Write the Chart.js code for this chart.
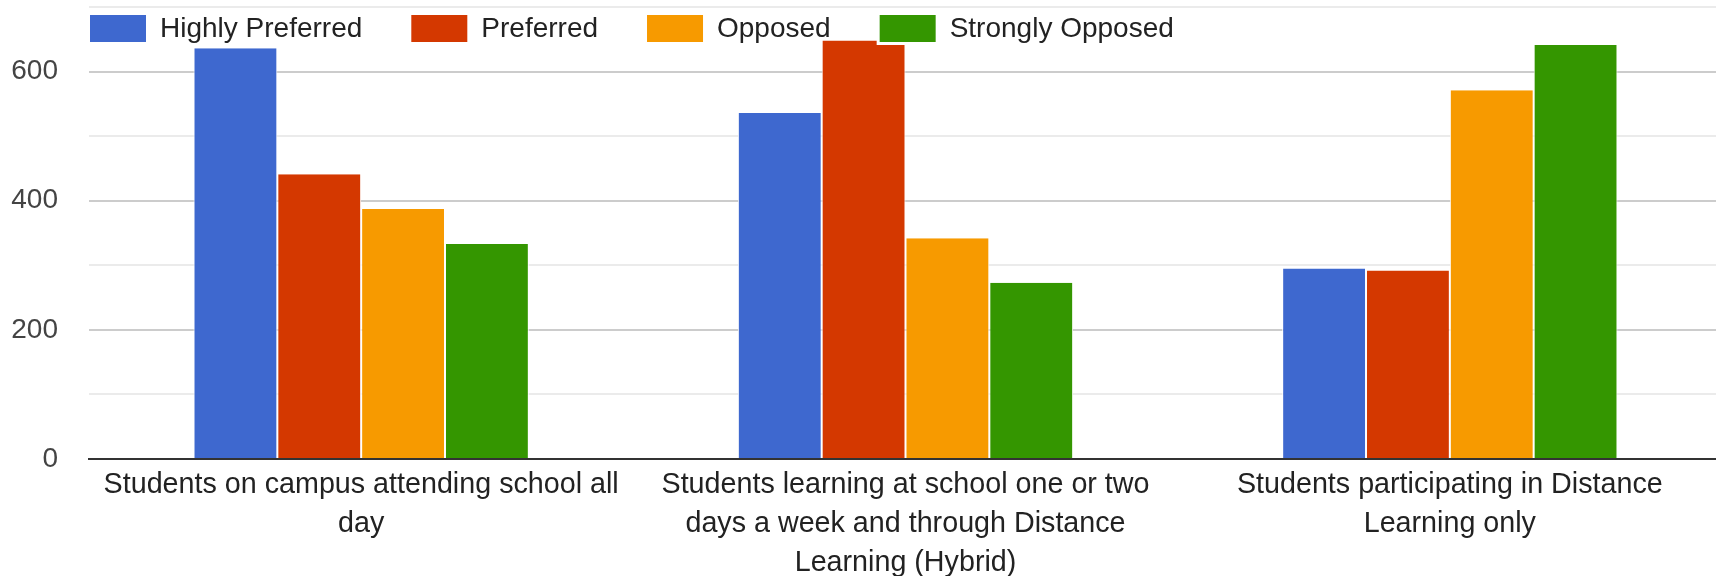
<!DOCTYPE html>
<html>
<head>
<meta charset="utf-8">
<script src="https://cdn.jsdelivr.net/npm/chart.js@4.4.0/dist/chart.umd.min.js"></script>
<style>
    html, body { margin: 0; padding: 0; background: #fff; overflow: hidden; }
    canvas { display: block; }
</style>
</head>
<body>
<canvas id="surveyChart" width="1722" height="576"></canvas>
<script>
// ===== DATA =====
const categories = [
    ['Students on campus attending school all', 'day'],
    ['Students learning at school one or two', 'days a week and through Distance', 'Learning (Hybrid)'],
    ['Students participating in Distance', 'Learning only']
];
const seriesNames = ['Highly Preferred', 'Preferred', 'Opposed', 'Strongly Opposed'];
const highlyPreferred = [636, 536, 295];
const preferred = [441, 648, 292];
const opposed = [387, 342, 571];
const stronglyOpposed = [333, 273, 641];
const yLabelTicks = [0, 200, 400, 600];

const seriesColors = ['#3e68cf', '#d43800', '#f79a00', '#349600'];
const fontFamily = '"Liberation Sans", Arial, sans-serif';

Chart.defaults.font.family = fontFamily;

// legend drawn inside the plot, on top of the bars
const topLegend = {
    id: 'topLegend',
    afterDatasetsDraw(chart) {
        const ctx = chart.ctx;
        ctx.save();
        ctx.font = '28px ' + fontFamily;
        ctx.textBaseline = 'middle';
        let x = 90;
        seriesNames.forEach((name, i) => {
            ctx.fillStyle = '#fff';
            ctx.fillRect(x - 3, 12, 62, 33);
            ctx.fillStyle = seriesColors[i];
            ctx.fillRect(x, 15, 56, 27);
            ctx.fillStyle = '#222';
            ctx.fillText(name, x + 70, 29);
            x += 70 + ctx.measureText(name).width + 49;
        });
        ctx.restore();
    }
};

const seriesData = [highlyPreferred, preferred, opposed, stronglyOpposed];

new Chart(document.getElementById('surveyChart'), {
    type: 'bar',
    data: {
        labels: categories,
        datasets: seriesNames.map((name, i) => ({
            label: name,
            data: seriesData[i],
            backgroundColor: seriesColors[i],
            borderColor: '#fff',
            borderWidth: { left: 1, right: 1, top: 0, bottom: 0 },
            barPercentage: 1,
            categoryPercentage: 0.616
        }))
    },
    options: {
        responsive: false,
        animation: false,
        devicePixelRatio: 1,
        layout: {
            padding: { top: 7, right: 0, left: 0, bottom: 0 }
        },
        plugins: {
            legend: { display: false },
            tooltip: { enabled: false }
        },
        scales: {
            x: {
                z: 1,
                grid: { display: false, drawTicks: false },
                border: { display: true, color: '#333', width: 2 },
                ticks: {
                    color: '#222',
                    font: { size: 28.7, lineHeight: 1.355 },
                    padding: 7,
                    maxRotation: 0,
                    autoSkip: false
                },
                afterFit(scale) {
                    scale.height = 117;
                    scale.paddingLeft = 0;
                    scale.paddingRight = 0;
                }
            },
            y: {
                min: 0,
                max: 700,
                ticks: {
                    stepSize: 100,
                    color: '#444',
                    font: { size: 28 },
                    padding: 31,
                    callback: v => yLabelTicks.includes(v) ? v : ''
                },
                grid: {
                    drawTicks: false,
                    color: ctx => {
                        const v = ctx.tick.value;
                        if (v === 0) return 'rgba(0,0,0,0)';
                        return yLabelTicks.includes(v) ? '#cccccc' : '#ebebeb';
                    },
                    lineWidth: 2
                },
                border: { display: false },
                afterFit(scale) {
                    scale.width = 89;
                    scale.paddingTop = 0;
                    scale.paddingBottom = 0;
                }
            }
        }
    },
    plugins: [topLegend]
});
</script>
</body>
</html>
